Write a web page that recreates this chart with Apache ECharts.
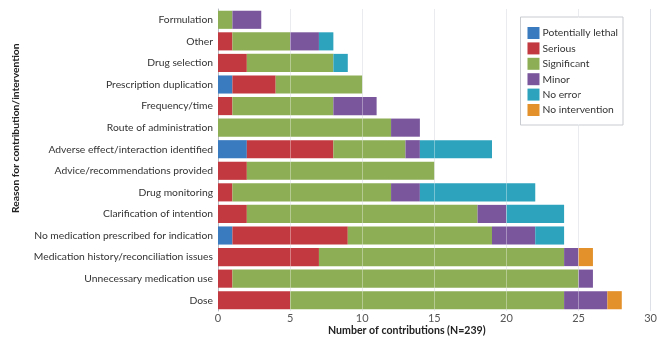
<!DOCTYPE html>
<html>
<head>
<meta charset="utf-8">
<script src="https://cdn.jsdelivr.net/npm/echarts@6/dist/echarts.min.js"></script>
<style>
  html, body { margin: 0; padding: 0; background: #fff; }
  #chart { width: 660px; height: 339px; }
</style>
</head>
<body>
<div id="chart"></div>
<script>
// Reasons, listed bottom-to-top as the category axis draws them
const reasons = [
  'Dose',
  'Unnecessary medication use',
  'Medication history/reconciliation issues',
  'No medication prescribed for indication',
  'Clarification of intention',
  'Drug monitoring',
  'Advice/recommendations provided',
  'Adverse effect/interaction identified',
  'Route of administration',
  'Frequency/time',
  'Prescription duplication',
  'Drug selection',
  'Other',
  'Formulation'
];

// Counts per severity, same order as reasons
const potentiallyLethal = [0, 0, 0, 1, 0, 0, 0, 2, 0, 0, 1, 0, 0, 0];
const serious           = [5, 1, 7, 8, 2, 1, 2, 6, 0, 1, 3, 2, 1, 0];
const significant       = [19, 24, 17, 10, 16, 11, 13, 5, 12, 7, 6, 6, 4, 1];
const minor             = [3, 1, 1, 3, 2, 2, 0, 1, 2, 3, 0, 0, 2, 2];
const noError           = [0, 0, 0, 2, 4, 8, 0, 5, 0, 0, 0, 1, 1, 0];
const noIntervention    = [1, 0, 1, 0, 0, 0, 0, 0, 0, 0, 0, 0, 0, 0];

const xTicks = [0, 5, 10, 15, 20, 25, 30];

const seriesDefs = [
  { name: 'Potentially lethal', data: potentiallyLethal, color: '#3a7bbf' },
  { name: 'Serious',            data: serious,           color: '#c2393f' },
  { name: 'Significant',        data: significant,       color: '#8dae55' },
  { name: 'Minor',              data: minor,             color: '#7a579d' },
  { name: 'No error',           data: noError,           color: '#2ea3be' },
  { name: 'No intervention',    data: noIntervention,    color: '#e3912a' }
];

const FONT = 'Lato';
const FS = 10.3;

const series = seriesDefs.map(function (s, i) {
  const out = {
    name: s.name,
    type: 'bar',
    stack: 'total',
    barCategoryGap: '16%',
    itemStyle: { color: s.color },
    data: s.data,
    emphasis: { disabled: true }
  };
  if (i === seriesDefs.length - 1) {
    // faint gridlines showing through the bars
    out.markLine = {
      silent: true,
      symbol: 'none',
      label: { show: false },
      lineStyle: { color: 'rgba(255,255,255,0.35)', type: 'solid', width: 1 },
      data: xTicks.slice(1, -1).map(function (v) { return { xAxis: v }; }),
      z: 10
    };
  }
  return out;
});

const chart = echarts.init(document.getElementById('chart'), null, { renderer: 'canvas' });
chart.setOption({
  animation: false,
  textStyle: { fontFamily: FONT },
  grid: { left: 218, right: 6, top: 9, bottom: 28, containLabel: false },
  xAxis: {
    type: 'value',
    min: 0,
    max: 30,
    interval: 5,
    axisLine: { show: false },
    axisTick: { show: false },
    axisLabel: { color: '#555', fontSize: 11, fontFamily: FONT, margin: 2 },
    splitLine: { lineStyle: { color: '#dde0e6', width: 1 } }
  },
  yAxis: {
    type: 'category',
    data: reasons,
    axisLine: { show: true, lineStyle: { color: '#b8bcc4' } },
    axisTick: { show: false },
    axisLabel: { color: '#333', fontSize: FS, fontFamily: FONT, margin: 5 }
  },
  legend: {
    orient: 'vertical',
    right: 37,
    top: 17,
    itemWidth: 12,
    itemHeight: 12,
    itemGap: 3.4,
    padding: [10, 5, 9, 7],
    borderColor: '#c8cbd0',
    borderWidth: 1,
    backgroundColor: '#fff',
    icon: 'rect',
    textStyle: { color: '#333', fontSize: FS, fontFamily: FONT, padding: [0, 0, 0, -2] },
    data: seriesDefs.map(function (s) { return s.name; })
  },
  graphic: [
    {
      type: 'text',
      left: 328,
      top: 325,
      style: {
        text: 'Number of contributions (N=239)',
        font: 'bold 10.6px ' + FONT,
        fill: '#222'
      }
    },
    {
      type: 'text',
      x: 21,
      y: 213,
      rotation: Math.PI / 2,
      style: {
        text: 'Reason for contribution/intervention',
        font: 'bold 10.3px ' + FONT,
        fill: '#222',
        textAlign: 'left',
        textVerticalAlign: 'bottom'
      }
    }
  ],
  series: series
});
</script>
</body>
</html>
